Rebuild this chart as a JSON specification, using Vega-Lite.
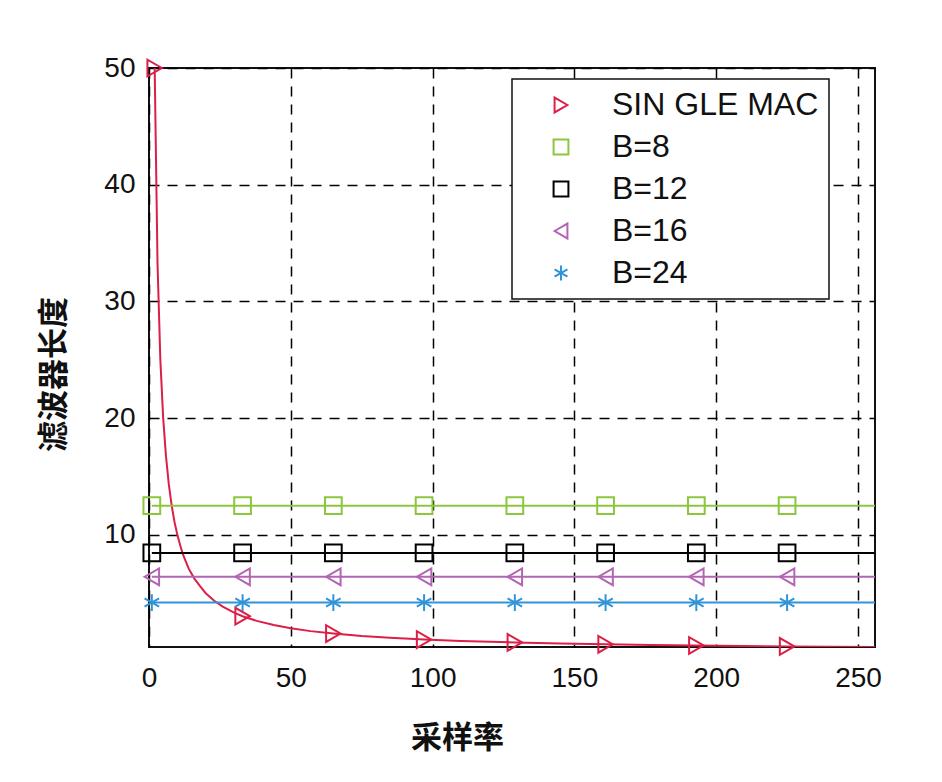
{
  "$schema": "https://vega.github.io/schema/vega-lite/v6.json",
  "width": 726,
  "height": 579,
  "autosize": {"type": "none"},
  "padding": {"left": 149, "top": 68, "right": 67, "bottom": 135},
  "background": "white",
  "datasets": {
    "lines": [
      {"series": "SIN GLE MAC", "x": 2, "y": 50},
      {"series": "SIN GLE MAC", "x": 3, "y": 33.3},
      {"series": "SIN GLE MAC", "x": 4, "y": 25},
      {"series": "SIN GLE MAC", "x": 5, "y": 20},
      {"series": "SIN GLE MAC", "x": 6, "y": 16.7},
      {"series": "SIN GLE MAC", "x": 7, "y": 14.3},
      {"series": "SIN GLE MAC", "x": 8, "y": 12.5},
      {"series": "SIN GLE MAC", "x": 9, "y": 11.1},
      {"series": "SIN GLE MAC", "x": 10, "y": 10},
      {"series": "SIN GLE MAC", "x": 11, "y": 9.1},
      {"series": "SIN GLE MAC", "x": 12, "y": 8.3},
      {"series": "SIN GLE MAC", "x": 14, "y": 7.1},
      {"series": "SIN GLE MAC", "x": 16, "y": 6.25},
      {"series": "SIN GLE MAC", "x": 18, "y": 5.6},
      {"series": "SIN GLE MAC", "x": 20, "y": 5},
      {"series": "SIN GLE MAC", "x": 23, "y": 4.35},
      {"series": "SIN GLE MAC", "x": 26, "y": 3.85},
      {"series": "SIN GLE MAC", "x": 30, "y": 3.33},
      {"series": "SIN GLE MAC", "x": 33, "y": 3.03},
      {"series": "SIN GLE MAC", "x": 38, "y": 2.63},
      {"series": "SIN GLE MAC", "x": 44, "y": 2.27},
      {"series": "SIN GLE MAC", "x": 50, "y": 2},
      {"series": "SIN GLE MAC", "x": 57, "y": 1.75},
      {"series": "SIN GLE MAC", "x": 65, "y": 1.54},
      {"series": "SIN GLE MAC", "x": 75, "y": 1.33},
      {"series": "SIN GLE MAC", "x": 85, "y": 1.18},
      {"series": "SIN GLE MAC", "x": 97, "y": 1.03},
      {"series": "SIN GLE MAC", "x": 110, "y": 0.91},
      {"series": "SIN GLE MAC", "x": 129, "y": 0.78},
      {"series": "SIN GLE MAC", "x": 145, "y": 0.69},
      {"series": "SIN GLE MAC", "x": 161, "y": 0.62},
      {"series": "SIN GLE MAC", "x": 177, "y": 0.56},
      {"series": "SIN GLE MAC", "x": 193, "y": 0.52},
      {"series": "SIN GLE MAC", "x": 209, "y": 0.48},
      {"series": "SIN GLE MAC", "x": 225, "y": 0.44},
      {"series": "SIN GLE MAC", "x": 240, "y": 0.42},
      {"series": "SIN GLE MAC", "x": 256, "y": 0.39},
      {"series": "B=8", "x": 1, "y": 12.5},
      {"series": "B=8", "x": 256, "y": 12.5},
      {"series": "B=12", "x": 1, "y": 8.45},
      {"series": "B=12", "x": 256, "y": 8.45},
      {"series": "B=16", "x": 1, "y": 6.4},
      {"series": "B=16", "x": 256, "y": 6.4},
      {"series": "B=24", "x": 1, "y": 4.2},
      {"series": "B=24", "x": 256, "y": 4.2}
    ],
    "markers": [
      {"series": "SIN GLE MAC", "x": 2, "y": 50},
      {"series": "SIN GLE MAC", "x": 33, "y": 3.03},
      {"series": "SIN GLE MAC", "x": 65, "y": 1.54},
      {"series": "SIN GLE MAC", "x": 97, "y": 1.03},
      {"series": "SIN GLE MAC", "x": 129, "y": 0.78},
      {"series": "SIN GLE MAC", "x": 161, "y": 0.62},
      {"series": "SIN GLE MAC", "x": 193, "y": 0.52},
      {"series": "SIN GLE MAC", "x": 225, "y": 0.44},
      {"series": "B=8", "x": 1, "y": 12.5},
      {"series": "B=8", "x": 33, "y": 12.5},
      {"series": "B=8", "x": 65, "y": 12.5},
      {"series": "B=8", "x": 97, "y": 12.5},
      {"series": "B=8", "x": 129, "y": 12.5},
      {"series": "B=8", "x": 161, "y": 12.5},
      {"series": "B=8", "x": 193, "y": 12.5},
      {"series": "B=8", "x": 225, "y": 12.5},
      {"series": "B=12", "x": 1, "y": 8.45},
      {"series": "B=12", "x": 33, "y": 8.45},
      {"series": "B=12", "x": 65, "y": 8.45},
      {"series": "B=12", "x": 97, "y": 8.45},
      {"series": "B=12", "x": 129, "y": 8.45},
      {"series": "B=12", "x": 161, "y": 8.45},
      {"series": "B=12", "x": 193, "y": 8.45},
      {"series": "B=12", "x": 225, "y": 8.45},
      {"series": "B=16", "x": 1, "y": 6.4},
      {"series": "B=16", "x": 33, "y": 6.4},
      {"series": "B=16", "x": 65, "y": 6.4},
      {"series": "B=16", "x": 97, "y": 6.4},
      {"series": "B=16", "x": 129, "y": 6.4},
      {"series": "B=16", "x": 161, "y": 6.4},
      {"series": "B=16", "x": 193, "y": 6.4},
      {"series": "B=16", "x": 225, "y": 6.4},
      {"series": "B=24", "x": 1, "y": 4.2},
      {"series": "B=24", "x": 33, "y": 4.2},
      {"series": "B=24", "x": 65, "y": 4.2},
      {"series": "B=24", "x": 97, "y": 4.2},
      {"series": "B=24", "x": 129, "y": 4.2},
      {"series": "B=24", "x": 161, "y": 4.2},
      {"series": "B=24", "x": 193, "y": 4.2},
      {"series": "B=24", "x": 225, "y": 4.2}
    ]
  },
  "encoding": {
    "x": {
      "field": "x", "type": "quantitative",
      "scale": {"domain": [0, 256], "nice": false, "zero": false},
      "axis": {
        "values": [0, 50, 100, 150, 200, 250],
        "labelFlush": false,
        "title": "采样率",
        "titleX": 308, "titleY": 91, "titleAlign": "center", "titleBaseline": "middle"
      }
    },
    "y": {
      "field": "y", "type": "quantitative",
      "scale": {"domain": [0.39, 50], "nice": false, "zero": false},
      "axis": {
        "values": [10, 20, 30, 40, 50],
        "title": "滤波器长度",
        "titleX": -95, "titleY": 306, "titleAlign": "center", "titleBaseline": "middle"
      }
    },
    "color": {
      "field": "series", "type": "nominal",
      "scale": {
        "domain": ["SIN GLE MAC", "B=8", "B=12", "B=16", "B=24"],
        "range": ["#dc1f47", "#8cc63f", "#000000", "#b265b4", "#2f94d8"]
      },
      "legend": {
        "title": null,
        "labelExpr": "datum.label == 'SIN GLE MAC' ? datum.label + '\u00a0\u00a0\u00a0\u00a0' : datum.label"
      }
    }
  },
  "layer": [
    {
      "data": {"name": "lines"},
      "mark": {"type": "line", "strokeWidth": 2, "clip": true}
    },
    {
      "data": {"name": "markers"},
      "mark": {"type": "point", "filled": false, "strokeWidth": 2, "size": 280, "opacity": 1},
      "encoding": {
        "shape": {
          "field": "series", "type": "nominal",
          "scale": {
            "domain": ["SIN GLE MAC", "B=8", "B=12", "B=16", "B=24"],
            "range": ["triangle-right", "square", "square", "triangle-left", "M0,-1L0,1M-0.87,-0.5L0.87,0.5M-0.87,0.5L0.87,-0.5"]
          },
          "legend": {
            "title": null,
            "labelExpr": "datum.label == 'SIN GLE MAC' ? datum.label + '\u00a0\u00a0\u00a0\u00a0' : datum.label"
          }
        }
      }
    }
  ],
  "config": {
    "view": {"stroke": "#111111", "strokeWidth": 2},
    "axis": {
      "grid": true,
      "gridColor": "#000000",
      "gridDash": [10, 8],
      "gridWidth": 1.5,
      "gridOpacity": 1,
      "ticks": false,
      "domain": false,
      "labelFont": "Liberation Sans",
      "labelFontSize": 28,
      "labelColor": "#111111",
      "titleFont": "Noto Sans CJK SC",
      "titleFontSize": 31,
      "titleFontWeight": "bold",
      "titleColor": "#111111"
    },
    "axisX": {"labelPadding": 17},
    "axisY": {"labelPadding": 14},
    "legend": {
      "orient": "none",
      "legendX": 363,
      "legendY": 11,
      "strokeColor": "#111111",
      "strokeWidth": 1.5,
      "fillColor": "white",
      "padding": 10,
      "labelFont": "Liberation Sans",
      "labelFontSize": 32,
      "labelColor": "#111111",
      "labelLimit": 400,
      "symbolSize": 220,
      "symbolStrokeWidth": 2,
      "symbolOffset": 23,
      "labelOffset": 35,
      "rowPadding": 10
    }
  }
}
